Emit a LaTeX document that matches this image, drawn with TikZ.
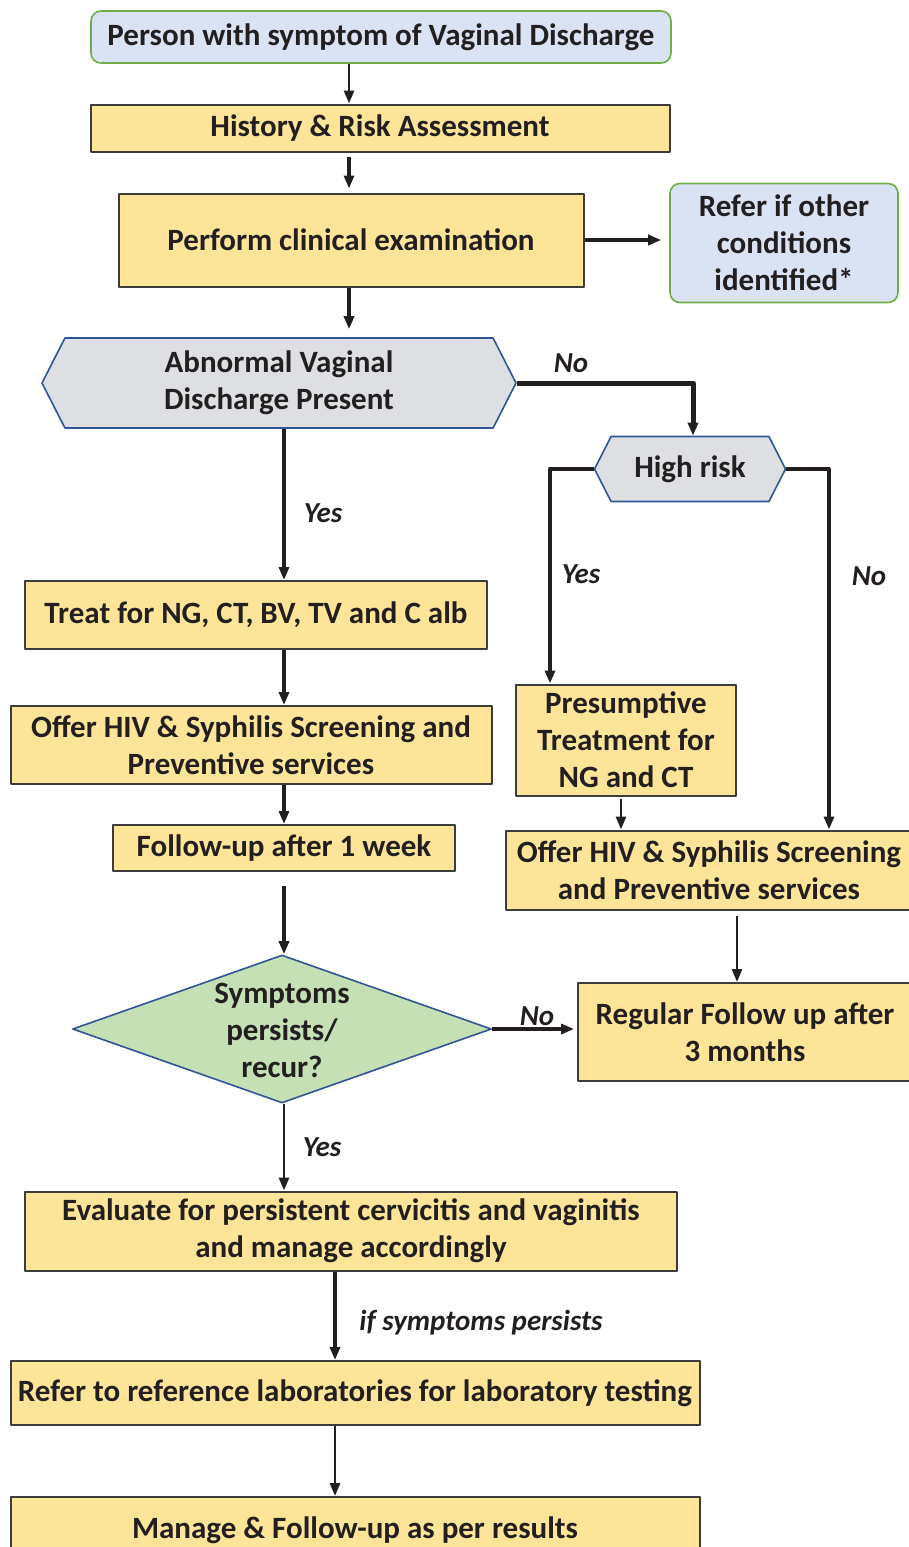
\documentclass[tikz,border=0pt]{standalone}
\usepackage{fontspec}
\setmainfont{Carlito}
\usetikzlibrary{shapes.geometric,shapes.symbols,arrows.meta}
\definecolor{boxyellow}{RGB}{252,229,153}
\definecolor{boxline}{RGB}{60,60,60}
\definecolor{paleblue}{RGB}{218,227,243}
\definecolor{edgegreen}{RGB}{112,173,71}
\definecolor{hexgray}{RGB}{222,223,226}
\definecolor{edgeblue}{RGB}{47,85,151}
\definecolor{diagreen}{RGB}{197,224,180}
\definecolor{ink}{RGB}{35,31,32}
\begin{document}
\begin{tikzpicture}[x=1pt, y=-1pt, font=\fontsize{31}{37}\selectfont\bfseries, text=ink, line join=round,
    >={Triangle[length=13pt,width=10pt]},
    box/.style={draw=boxline, line width=2pt, fill=boxyellow, align=center, inner sep=0pt},
    startbox/.style={box, draw=edgegreen, fill=paleblue, rounded corners=10pt, line width=1.6pt},
    hexbox/.style={signal, signal to=west and east, signal pointer angle=126, draw=edgeblue, fill=hexgray, line width=1.6pt, align=center, inner sep=0pt},
    dia/.style={diamond, draw=edgeblue, fill=diagreen, line width=1.6pt, inner sep=0pt},
    conn/.style={->, draw=ink, line width=2.8pt},
    bold conn/.style={conn, line width=4pt},
    lbl/.style={font=\fontsize{29}{34}\selectfont\bfseries\itshape}]
    \useasboundingbox (0,0) rectangle (909,1547);
    \path (349,0) coordinate (topx) (284,0) coordinate (leftx) (335,0) coordinate (botx);
    \node[startbox, minimum width=580pt, minimum height=52pt] (start) at (381,37) {Person with symptom of Vaginal Discharge};
    \node[box, minimum width=579pt, minimum height=47pt] (hist) at (380,128) {History \& Risk Assessment};
    \node[box, minimum width=465pt, minimum height=93pt] (exam) at (351,240) {Perform clinical examination};
    \node[startbox, minimum width=228pt, minimum height=119pt] (refer) at (784,243) {Refer if other\\conditions\\identified*};
    \node[hexbox, minimum width=474pt, minimum height=90pt] (abn) at (279,383) {Abnormal Vaginal\\Discharge Present};
    \node[hexbox, minimum width=191pt, minimum height=65pt] (high) at (690,469) {High risk};
    \node[box, minimum width=462pt, minimum height=68pt] (treat) at (256,615) {Treat for NG, CT, BV, TV and C alb};
    \node[box, minimum width=481pt, minimum height=78pt] (offer1) at (251,745) {Offer HIV \& Syphilis Screening and\\Preventive services};
    \node[box, minimum width=342pt, minimum height=46pt] (follow) at (284,848) {Follow-up after 1 week};
    \node[box, minimum width=220pt, minimum height=111pt] (presump) at (626,740) {Presumptive\\Treatment for\\NG and CT};
    \node[box, minimum width=406pt, minimum height=79pt] (offer2) at (709,870) {Offer HIV \& Syphilis Screening\\and Preventive services};
    \node[box, minimum width=334pt, minimum height=98pt] (regular) at (745,1032) {Regular Follow up after\\3 months};
    \node[dia, minimum width=419pt, minimum height=148pt] (diam) at (282,1029) {};
    \node[align=center] (diamtext) at ([yshift=-1pt]diam.center) {Symptoms\\persists/\\recur?};
    \node[box, minimum width=652pt, minimum height=79pt] (eval) at (351,1231) {Evaluate for persistent cervicitis and vaginitis\\and manage accordingly};
    \node[box, minimum width=689pt, minimum height=64pt] (lab) at (355,1393) {Refer to reference laboratories for laboratory testing};
    \node[box, minimum width=689pt, minimum height=66pt] (manage) at (355,1530) {Manage \& Follow-up as per results};
    \draw[conn] (start.south -| topx) -- (hist.north -| topx);
    \draw[bold conn, shorten <=4pt, shorten >=4pt] (hist.south -| topx) -- (exam.north -| topx);
    \draw[bold conn, shorten >=8pt] (exam.east) -- (exam.east -| refer.west);
    \draw[bold conn, shorten >=8pt] (exam.south -| topx) -- (abn.north -| topx);
    \draw[bold conn] (abn.south -| leftx) -- (treat.north -| leftx);
    \draw[bold conn, line width=5pt] (abn.east) -| ([xshift=3pt]high.north);
    \draw[bold conn, line width=4.6pt] (high.west) -| ([xshift=35pt]presump.north west);
    \draw[conn, line width=3.2pt] (high.east) -| ([xshift=120pt]offer2.north);
    \draw[bold conn] (treat.south -| leftx) -- (offer1.north -| leftx);
    \draw[bold conn] (offer1.south -| leftx) -- (follow.north -| leftx);
    \draw[conn, shorten <=2pt] ([xshift=-5pt]presump.south) -- ([xshift=-5pt]presump.south |- offer2.north);
    \draw[bold conn, shorten <=14pt] (follow.south -| leftx) -- (diam.north -| leftx);
    \draw[conn, shorten <=5pt] ([xshift=-8pt]regular.north |- offer2.south) -- ([xshift=-8pt]regular.north);
    \draw[bold conn, shorten >=3pt] (diam.east) -- (diam.east -| regular.west);
    \draw[conn] (diam.south -| leftx) -- (eval.north -| leftx);
    \draw[bold conn] (eval.south -| botx) -- (lab.north -| botx);
    \draw[conn] (lab.south -| botx) -- (manage.north -| botx);
    \node[lbl] (yes1) at (323,513) {Yes};
    \node[lbl] (no1) at (571,363) {No};
    \node[lbl] (yes2) at (581,574) {Yes};
    \node[lbl] (no2) at (869,576) {No};
    \node[lbl] (no3) at (537,1016) {No};
    \node[lbl] (yes3) at (322,1147) {Yes};
    \node[lbl] (persist) at (481,1323) {if symptoms persists};
\end{tikzpicture}
\end{document}
